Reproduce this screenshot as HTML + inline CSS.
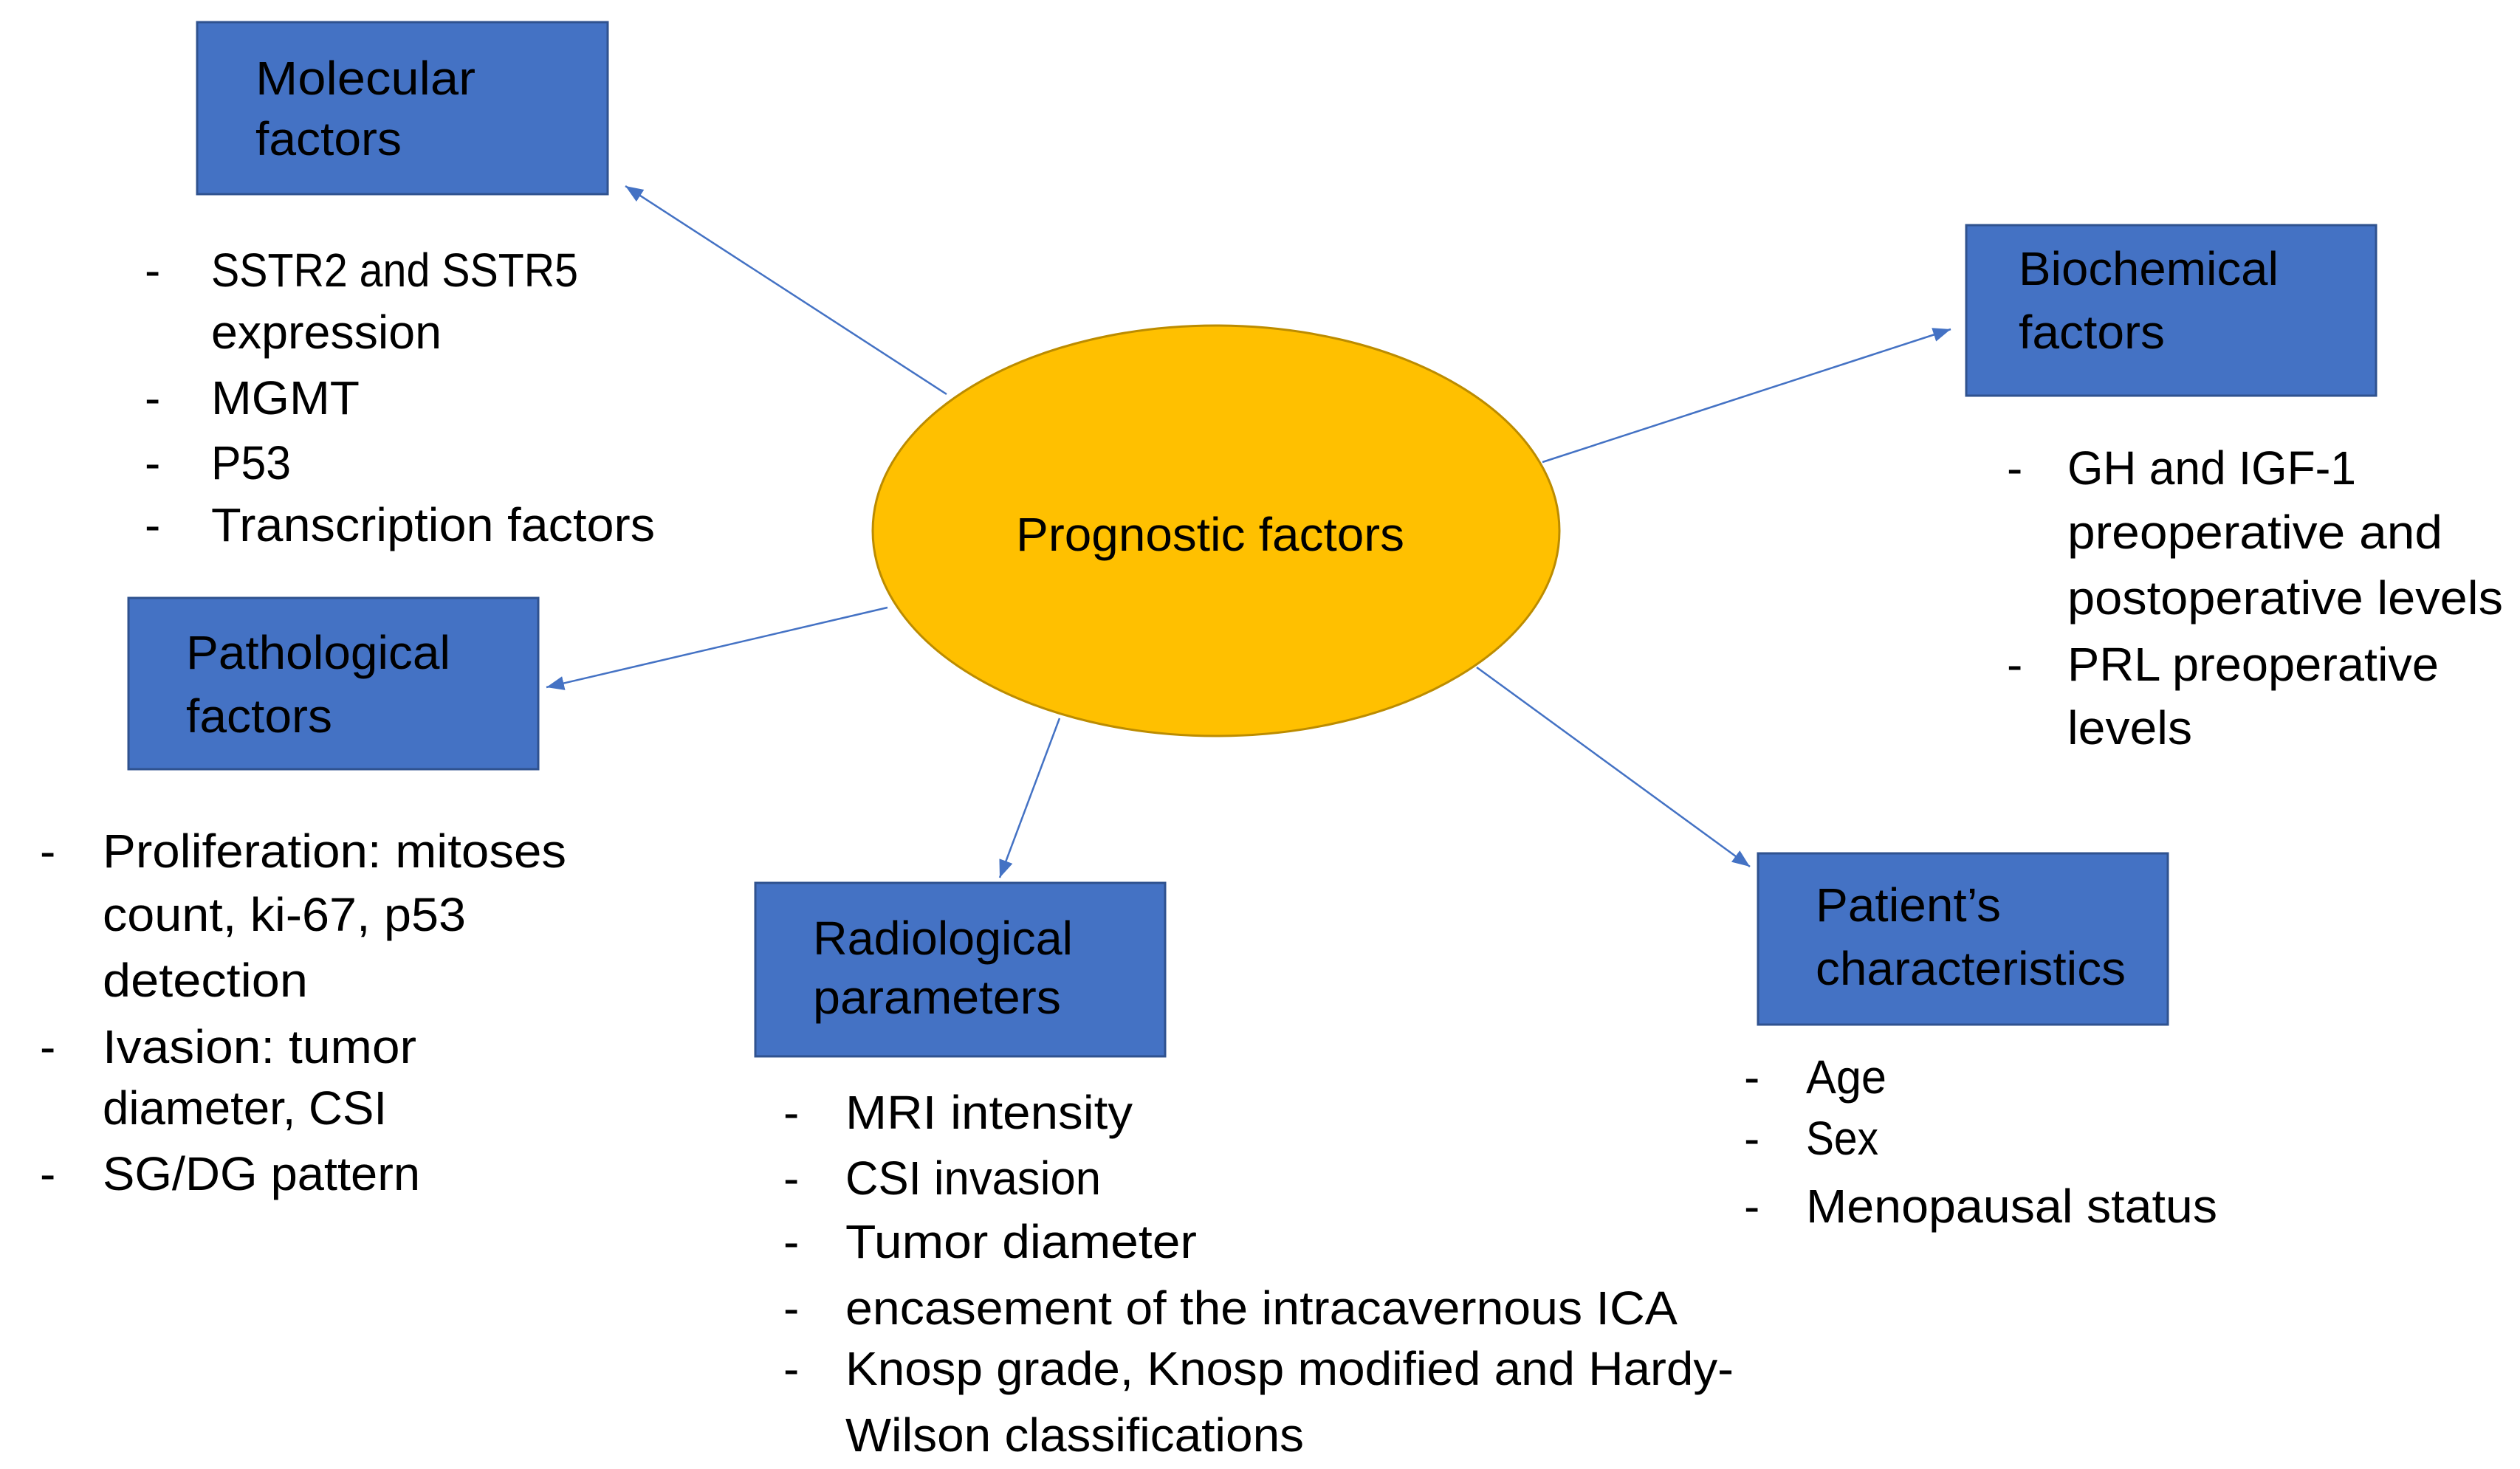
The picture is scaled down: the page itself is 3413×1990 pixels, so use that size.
<!DOCTYPE html>
<html><head><meta charset="utf-8"><style>
html,body{margin:0;padding:0;background:#fff;}
svg{display:block;}
text{font-family:"Liberation Sans",sans-serif;font-size:64px;fill:#000;}
</style></head><body>
<svg width="3413" height="1990" viewBox="0 0 3413 1990" xmlns="http://www.w3.org/2000/svg">
<defs>
<marker id="b" viewBox="0 0 10 8" refX="10" refY="4" markerWidth="24" markerHeight="20" orient="auto" markerUnits="userSpaceOnUse">
<path d="M0,0 L10,4 L0,8 z" fill="#4472C4"/>
</marker>
</defs>
<g stroke="#4472C4" stroke-width="2.5" fill="none">
<line x1="1282" y1="534" x2="847" y2="252" marker-end="url(#b)"/>
<line x1="2089" y1="626" x2="2642" y2="446" marker-end="url(#b)"/>
<line x1="1202" y1="823" x2="740" y2="931" marker-end="url(#b)"/>
<line x1="1435" y1="973" x2="1354" y2="1189" marker-end="url(#b)"/>
<line x1="2000" y1="904" x2="2370" y2="1174" marker-end="url(#b)"/>
</g>
<ellipse cx="1647" cy="719" rx="465" ry="278" fill="#FFC000" stroke="#BC8C00" stroke-width="3"/>
<text x="1376" y="746" textLength="526" lengthAdjust="spacingAndGlyphs">Prognostic factors</text>
<g fill="#4472C4" stroke="#2F528F" stroke-width="3">
<rect x="267" y="30" width="556" height="233"/>
<rect x="2663" y="305" width="555" height="231"/>
<rect x="174" y="810" width="555" height="232"/>
<rect x="1023" y="1196" width="555" height="235"/>
<rect x="2381" y="1156" width="555" height="232"/>
</g>
<text x="346" y="128" textLength="298" lengthAdjust="spacingAndGlyphs">Molecular</text>
<text x="346" y="210" textLength="198" lengthAdjust="spacingAndGlyphs">factors</text>
<text x="2734" y="386" textLength="352" lengthAdjust="spacingAndGlyphs">Biochemical</text>
<text x="2734" y="472" textLength="198" lengthAdjust="spacingAndGlyphs">factors</text>
<text x="252" y="906" textLength="358" lengthAdjust="spacingAndGlyphs">Pathological</text>
<text x="252" y="992" textLength="198" lengthAdjust="spacingAndGlyphs">factors</text>
<text x="1101" y="1293" textLength="352" lengthAdjust="spacingAndGlyphs">Radiological</text>
<text x="1101" y="1373" textLength="336" lengthAdjust="spacingAndGlyphs">parameters</text>
<text x="2459" y="1248" textLength="251" lengthAdjust="spacingAndGlyphs">Patient’s</text>
<text x="2459" y="1334" textLength="420" lengthAdjust="spacingAndGlyphs">characteristics</text>
<text x="196" y="388">-</text><text x="286" y="388" textLength="497" lengthAdjust="spacingAndGlyphs">SSTR2 and SSTR5</text>
<text x="286" y="472" textLength="312" lengthAdjust="spacingAndGlyphs">expression</text>
<text x="196" y="561">-</text><text x="286" y="561" textLength="201" lengthAdjust="spacingAndGlyphs">MGMT</text>
<text x="196" y="649">-</text><text x="286" y="649" textLength="108" lengthAdjust="spacingAndGlyphs">P53</text>
<text x="196" y="733">-</text><text x="286" y="733" textLength="601" lengthAdjust="spacingAndGlyphs">Transcription factors</text>
<text x="2718" y="656">-</text><text x="2800" y="656" textLength="391" lengthAdjust="spacingAndGlyphs">GH and IGF-1</text>
<text x="2800" y="743" textLength="508" lengthAdjust="spacingAndGlyphs">preoperative and</text>
<text x="2800" y="832" textLength="590" lengthAdjust="spacingAndGlyphs">postoperative levels</text>
<text x="2718" y="922">-</text><text x="2800" y="922" textLength="503" lengthAdjust="spacingAndGlyphs">PRL preoperative</text>
<text x="2800" y="1008" textLength="169" lengthAdjust="spacingAndGlyphs">levels</text>
<text x="54" y="1175">-</text><text x="139" y="1175" textLength="628" lengthAdjust="spacingAndGlyphs">Proliferation: mitoses</text>
<text x="139" y="1261" textLength="492" lengthAdjust="spacingAndGlyphs">count, ki-67, p53</text>
<text x="139" y="1350" textLength="278" lengthAdjust="spacingAndGlyphs">detection</text>
<text x="54" y="1440">-</text><text x="139" y="1440" textLength="425" lengthAdjust="spacingAndGlyphs">Ivasion: tumor</text>
<text x="139" y="1523" textLength="385" lengthAdjust="spacingAndGlyphs">diameter, CSI</text>
<text x="54" y="1612">-</text><text x="139" y="1612" textLength="430" lengthAdjust="spacingAndGlyphs">SG/DG pattern</text>
<text x="1061" y="1529">-</text><text x="1145" y="1529" textLength="389" lengthAdjust="spacingAndGlyphs">MRI intensity</text>
<text x="1061" y="1618">-</text><text x="1145" y="1618" textLength="346" lengthAdjust="spacingAndGlyphs">CSI invasion</text>
<text x="1061" y="1704">-</text><text x="1145" y="1704" textLength="476" lengthAdjust="spacingAndGlyphs">Tumor diameter</text>
<text x="1061" y="1794">-</text><text x="1145" y="1794" textLength="1127" lengthAdjust="spacingAndGlyphs">encasement of the intracavernous ICA</text>
<text x="1061" y="1876">-</text><text x="1145" y="1876" textLength="1203" lengthAdjust="spacingAndGlyphs">Knosp grade, Knosp modified and Hardy-</text>
<text x="1145" y="1966" textLength="621" lengthAdjust="spacingAndGlyphs">Wilson classifications</text>
<text x="2362" y="1481">-</text><text x="2446" y="1481" textLength="109" lengthAdjust="spacingAndGlyphs">Age</text>
<text x="2362" y="1564">-</text><text x="2446" y="1564" textLength="98" lengthAdjust="spacingAndGlyphs">Sex</text>
<text x="2362" y="1656">-</text><text x="2446" y="1656" textLength="557" lengthAdjust="spacingAndGlyphs">Menopausal status</text>
</svg>
</body></html>
